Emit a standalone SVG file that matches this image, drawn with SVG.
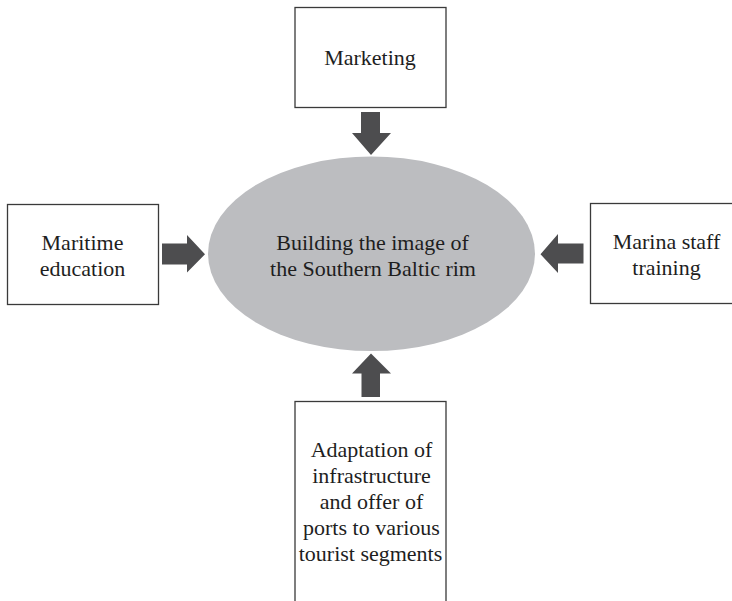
<svg xmlns="http://www.w3.org/2000/svg" width="732" height="601" viewBox="0 0 732 601">
<style>
.box{fill:#fff;stroke:#3a3a3a;stroke-width:1.3}
text{font-family:"Liberation Serif","Times New Roman",Times,"DejaVu Serif",serif;font-size:22px;fill:#1e1e1e;text-anchor:middle}
.arr{fill:#4d4d4f}
</style>
<rect width="732" height="601" fill="#fff"/>
<g id="center">
<ellipse cx="371.5" cy="253.8" rx="163.5" ry="97.3" fill="#bcbdc0"/>
<text x="372.5" y="250" font-family="Liberation Serif">Building the image of</text>
<text x="373" y="276" font-family="Liberation Serif">the Southern Baltic rim</text>
</g>
<g id="marketing">
<rect class="box" x="295" y="7.5" width="151" height="100"/>
<text x="370" y="65" font-family="Liberation Serif">Marketing</text>
</g>
<g id="maritime-education">
<rect class="box" x="7.5" y="204.5" width="151" height="100"/>
<text x="82.5" y="250" font-family="Liberation Serif">Maritime</text>
<text x="82.5" y="275.5" font-family="Liberation Serif">education</text>
</g>
<g id="marina-staff-training">
<rect class="box" x="590.5" y="203.5" width="150" height="100"/>
<text x="666.5" y="248.5" font-family="Liberation Serif">Marina staff</text>
<text x="666.5" y="275" font-family="Liberation Serif">training</text>
</g>
<g id="adaptation">
<rect class="box" x="295" y="401.5" width="151" height="210"/>
<text x="371.5" y="457" font-family="Liberation Serif">Adaptation of</text>
<text x="371.5" y="483" font-family="Liberation Serif">infrastructure</text>
<text x="371.5" y="509" font-family="Liberation Serif">and offer of</text>
<text x="371.5" y="535" font-family="Liberation Serif">ports to various</text>
<text x="370.5" y="561" font-family="Liberation Serif">tourist segments</text>
</g>
<g id="connectors">
<polygon class="arr" points="361,112 380,112 380,133 391,133 371,155 352,133 361,133"/>
<polygon class="arr" points="162,243.5 187,243.5 187,235 205,254.3 187,272.5 187,264.5 162,264.5"/>
<polygon class="arr" points="583.5,243.5 558,243.5 558,234 540.5,254.3 558,273 558,263.5 583.5,263.5"/>
<polygon class="arr" points="361.5,397 380,397 380,373.5 391,373.5 371,353.5 352,373.5 361.5,373.5"/>
</g>
</svg>
